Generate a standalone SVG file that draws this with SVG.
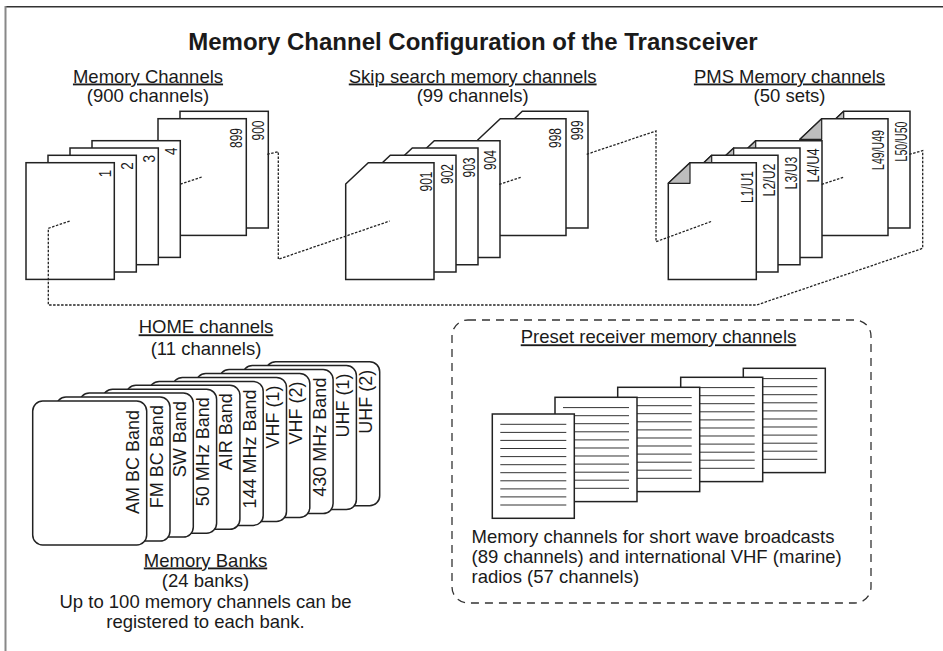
<svg xmlns="http://www.w3.org/2000/svg" width="943" height="651" viewBox="0 0 943 651">
<style>
  text { font-family: "Liberation Sans", Arial, sans-serif; fill: #1a1a1a; }
  .title { font-size: 24px; font-weight: bold; text-anchor: middle; }
  .head { font-size: 18.5px; text-anchor: middle; }
  .ul { text-decoration: underline; }
  .body { font-size: 18.5px; }
  .pg { fill: #fff; stroke: #222; stroke-width: 1.5; }
  .fold { fill: #bdbdbd; stroke: #222; stroke-width: 1.2; stroke-linejoin: round; }
  .lbl { font-size: 16px; text-anchor: end; }
  .card { fill: #fff; stroke: #222; stroke-width: 1.5; }
  .clbl { font-size: 18px; text-anchor: end; }
  .rl { stroke: #333; stroke-width: 1; }
  .dot { fill: none; stroke: #222; stroke-width: 1.3; stroke-dasharray: 2.5 1.5; }
  .box { fill: none; stroke: #333; stroke-width: 1.3; stroke-dasharray: 8 6; }
</style>
<defs>
  <rect id="mpage" width="88.3" height="116.7" class="pg"/>
  <path id="spage" class="pg" d="M0,21.3 L22.6,0 L88.3,0 L88.3,116.7 L0,116.7 Z"/>
  <g id="ppage">
    <path class="pg" d="M0,20.6 L21.7,0 L88,0 L88,116.7 L0,116.7 Z"/>
    <path class="fold" d="M0,20.6 L21.7,0 L21.7,20.6 Z"/>
  </g>
  <rect id="hcard" width="114" height="144" rx="10" ry="10" class="card"/>
  <g id="rpage">
    <rect width="82" height="104.3" class="pg"/>
    <g class="rl">
      <line x1="8" x2="74" y1="10.3" y2="10.3"/>
      <line x1="8" x2="74" y1="18.4" y2="18.4"/>
      <line x1="8" x2="74" y1="26.4" y2="26.4"/>
      <line x1="8" x2="74" y1="34.5" y2="34.5"/>
      <line x1="8" x2="74" y1="42.6" y2="42.6"/>
      <line x1="8" x2="74" y1="50.7" y2="50.7"/>
      <line x1="8" x2="74" y1="58.7" y2="58.7"/>
      <line x1="8" x2="74" y1="66.8" y2="66.8"/>
      <line x1="8" x2="74" y1="74.9" y2="74.9"/>
      <line x1="8" x2="74" y1="82.9" y2="82.9"/>
      <line x1="8" x2="74" y1="91" y2="91"/>
    </g>
  </g>
</defs>

<rect width="943" height="651" fill="#fff"/>
<g id="frame">
  <line x1="5.5" y1="6.7" x2="943" y2="6.7" stroke="#333" stroke-width="1.4"/>
  <line x1="5.5" y1="6" x2="5.5" y2="651" stroke="#888" stroke-width="2"/>
</g>

<text class="title" x="473" y="50">Memory Channel Configuration of the Transceiver</text>

<!-- Memory Channels -->
<g id="memory-channels">
  <text class="head ul" x="148" y="82.5">Memory Channels</text>
  <text class="head" x="148" y="102">(900 channels)</text>
  <g id="mc-900"><use href="#mpage" x="180" y="111.3"/><text class="lbl" transform="translate(264,120.5) rotate(-90)" textLength="20" lengthAdjust="spacingAndGlyphs">900</text></g>
  <g id="mc-899"><use href="#mpage" x="158" y="118.7"/><text class="lbl" transform="translate(241.5,128) rotate(-90)" textLength="20" lengthAdjust="spacingAndGlyphs">899</text></g>
  <g id="mc-4"><use href="#mpage" x="92" y="140.7"/><text class="lbl" transform="translate(176.5,147.5) rotate(-90)" textLength="7.5" lengthAdjust="spacingAndGlyphs">4</text></g>
  <g id="mc-3"><use href="#mpage" x="70" y="148"/><text class="lbl" transform="translate(154.5,155) rotate(-90)" textLength="7.5" lengthAdjust="spacingAndGlyphs">3</text></g>
  <g id="mc-2"><use href="#mpage" x="48" y="155.3"/><text class="lbl" transform="translate(132.5,162.3) rotate(-90)" textLength="7.5" lengthAdjust="spacingAndGlyphs">2</text></g>
  <g id="mc-1"><use href="#mpage" x="26" y="162.7"/><text class="lbl" transform="translate(110.5,169.7) rotate(-90)" textLength="7.5" lengthAdjust="spacingAndGlyphs">1</text></g>
</g>

<!-- Skip search memory channels -->
<g id="skip-channels">
  <text class="head ul" x="472.7" y="82.5">Skip search memory channels</text>
  <text class="head" x="472.7" y="102">(99 channels)</text>
  <g id="sc-999"><use href="#spage" x="499.7" y="111.3"/><text class="lbl" transform="translate(583,120.3) rotate(-90)" textLength="20" lengthAdjust="spacingAndGlyphs">999</text></g>
  <g id="sc-998"><use href="#spage" x="477.7" y="118.7"/><text class="lbl" transform="translate(560.8,128) rotate(-90)" textLength="20" lengthAdjust="spacingAndGlyphs">998</text></g>
  <g id="sc-904"><use href="#spage" x="411.7" y="140.7"/><text class="lbl" transform="translate(496.2,150) rotate(-90)" textLength="20" lengthAdjust="spacingAndGlyphs">904</text></g>
  <g id="sc-903"><use href="#spage" x="389.7" y="148"/><text class="lbl" transform="translate(474.5,157.5) rotate(-90)" textLength="20" lengthAdjust="spacingAndGlyphs">903</text></g>
  <g id="sc-902"><use href="#spage" x="367.7" y="155.3"/><text class="lbl" transform="translate(453,164) rotate(-90)" textLength="20" lengthAdjust="spacingAndGlyphs">902</text></g>
  <g id="sc-901"><use href="#spage" x="345.7" y="162.7"/><text class="lbl" transform="translate(431.5,171.5) rotate(-90)" textLength="20" lengthAdjust="spacingAndGlyphs">901</text></g>
</g>

<!-- PMS Memory channels -->
<g id="pms-channels">
  <text class="head ul" x="789.5" y="82.5">PMS Memory channels</text>
  <text class="head" x="789.5" y="102">(50 sets)</text>
  <g id="pms-50"><use href="#ppage" x="822" y="111.3"/><text class="lbl" transform="translate(906.5,121.5) rotate(-90)" textLength="40" lengthAdjust="spacingAndGlyphs">L50/U50</text></g>
  <g id="pms-49"><use href="#ppage" x="800" y="118.7"/><text class="lbl" transform="translate(884.3,130) rotate(-90)" textLength="40" lengthAdjust="spacingAndGlyphs">L49/U49</text></g>
  <g id="pms-4"><use href="#ppage" x="734" y="140.7"/><text class="lbl" transform="translate(818.5,148.5) rotate(-90)" textLength="34" lengthAdjust="spacingAndGlyphs">L4/U4</text></g>
  <g id="pms-3"><use href="#ppage" x="712" y="148"/><text class="lbl" transform="translate(796.8,156.5) rotate(-90)" textLength="33" lengthAdjust="spacingAndGlyphs">L3/U3</text></g>
  <g id="pms-2"><use href="#ppage" x="690" y="155.3"/><text class="lbl" transform="translate(775,163.5) rotate(-90)" textLength="33" lengthAdjust="spacingAndGlyphs">L2/U2</text></g>
  <g id="pms-1"><use href="#ppage" x="668.3" y="162.7"/><text class="lbl" transform="translate(752.8,171) rotate(-90)" textLength="32" lengthAdjust="spacingAndGlyphs">L1/U1</text></g>
</g>

<!-- Connectors -->
<g id="connectors">
  <path class="dot" d="M201.7,177 L180,184.3"/>
  <path class="dot" d="M267.3,154.3 L278.3,151.7 L278.3,259.3 L389.7,221"/>
  <path class="dot" d="M499.3,184.3 L521.7,177"/>
  <path class="dot" d="M586.7,154.3 L656,131 L656,241.7 L712.5,221"/>
  <path class="dot" d="M821.7,184.3 L844.5,177"/>
  <path class="dot" d="M909.3,154.3 L922.7,150.7 L922.7,248.3 L756.7,305 L48.3,305 L48.3,228.3 L70,221"/>
</g>

<!-- HOME channels / Memory Banks -->
<g id="home-channels">
  <text class="head ul" x="206" y="333.3">HOME channels</text>
  <text class="head" x="206" y="355">(11 channels)</text>
  <g id="hc-uhf2"><use href="#hcard" x="265.7" y="361.7"/><text class="clbl" transform="translate(372.2,369.7) rotate(-90)">UHF (2)</text></g>
  <g id="hc-uhf1"><use href="#hcard" x="242.4" y="365.6"/><text class="clbl" transform="translate(348.9,373.6) rotate(-90)">UHF (1)</text></g>
  <g id="hc-430"><use href="#hcard" x="219.1" y="369.6"/><text class="clbl" transform="translate(325.6,377.6) rotate(-90)">430 MHz Band</text></g>
  <g id="hc-vhf2"><use href="#hcard" x="195.8" y="373.5"/><text class="clbl" transform="translate(302.3,381.5) rotate(-90)">VHF (2)</text></g>
  <g id="hc-vhf1"><use href="#hcard" x="172.5" y="377.4"/><text class="clbl" transform="translate(279,385.4) rotate(-90)">VHF (1)</text></g>
  <g id="hc-144"><use href="#hcard" x="149.2" y="381.4"/><text class="clbl" transform="translate(255.7,389.4) rotate(-90)">144 MHz Band</text></g>
  <g id="hc-air"><use href="#hcard" x="125.9" y="385.3"/><text class="clbl" transform="translate(232.4,393.3) rotate(-90)">AIR Band</text></g>
  <g id="hc-50"><use href="#hcard" x="102.6" y="389.2"/><text class="clbl" transform="translate(209.1,397.2) rotate(-90)">50 MHz Band</text></g>
  <g id="hc-sw"><use href="#hcard" x="79.3" y="393.1"/><text class="clbl" transform="translate(185.8,401.1) rotate(-90)">SW Band</text></g>
  <g id="hc-fm"><use href="#hcard" x="56" y="397.1"/><text class="clbl" transform="translate(162.5,405.1) rotate(-90)">FM BC Band</text></g>
  <g id="hc-am"><use href="#hcard" x="32.7" y="401"/><text class="clbl" transform="translate(139.2,410) rotate(-90)">AM BC Band</text></g>
  <text class="head ul" x="205.5" y="566.5">Memory Banks</text>
  <text class="head" x="205.5" y="587.3">(24 banks)</text>
  <text class="head" x="205.5" y="608">Up to 100 memory channels can be</text>
  <text class="head" x="205.5" y="628.3">registered to each bank.</text>
</g>

<!-- Preset receiver memory channels -->
<g id="preset-channels">
  <rect class="box" x="452" y="320" width="419" height="283" rx="16" ry="16"/>
  <text class="head ul" x="658.5" y="343.3">Preset receiver memory channels</text>
  <g id="rp-5"><use href="#rpage" x="743.3" y="368.3"/></g>
  <g id="rp-4"><use href="#rpage" x="680.7" y="377.3"/></g>
  <g id="rp-3"><use href="#rpage" x="617.7" y="387.3"/></g>
  <g id="rp-2"><use href="#rpage" x="555" y="397.3"/></g>
  <g id="rp-1"><use href="#rpage" x="492.3" y="414"/></g>
  <text class="body" x="471.5" y="543">Memory channels for short wave broadcasts</text>
  <text class="body" x="471.5" y="563">(89 channels) and international VHF (marine)</text>
  <text class="body" x="471.5" y="583">radios (57 channels)</text>
</g>
</svg>
